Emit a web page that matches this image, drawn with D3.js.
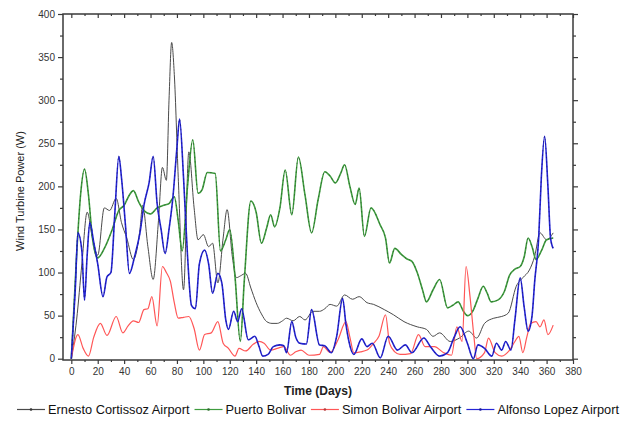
<!DOCTYPE html>
<html>
<head>
<meta charset="utf-8">
<script src="https://cdn.jsdelivr.net/npm/d3@7"></script>
<style>
  html, body { margin: 0; padding: 0; background: #fff; }
  svg { display: block; font-family: "Liberation Sans", Arial, sans-serif; }
</style>
</head>
<body>
<svg id="chart" width="624" height="421"></svg>
<script>
// ---------- data (day, power W) ----------
const seriesNames = ["Ernesto Cortissoz Airport", "Puerto Bolivar", "Simon Bolivar Airport", "Alfonso Lopez Airport"];

const ernestoCortissoz = [[0,0],[4,45],[8,110],[12,170],[16,140],[20,120],[25,175],[29,172],[34,186],[38,158],[42,140],[47,115],[52,150],[54,178],[58,130],[62,92],[66,160],[69,222],[72,207],[74,300],[76,367],[78,330],[81,210],[85,80],[89,240],[93,175],[96,138],[100,144],[104,130],[107,134],[111,88],[115,140],[118,173],[122,118],[125,94],[128,96],[132,99],[136,82],[140,65],[144,52],[148,43],[152,41],[156,41],[160,44],[163,47],[168,44],[173,49],[177,45],[183,55],[188,55],[192,58],[196,63],[201,61],[207,74],[213,69],[218,72],[224,65],[229,63],[237,57],[244,51],[252,43],[262,37],[269,34],[274,26],[279,30],[287,20],[294,24],[301,32],[307,24],[313,41],[320,47],[326,49],[331,53],[337,84],[342,94],[347,103],[351,119],[355,146],[360,138],[365,146]];

const puertoBolivar = [[0,0],[4,120],[7,190],[10,220],[13,190],[16,140],[20,117],[25,128],[31,150],[36,172],[40,178],[44,190],[47,195],[51,182],[55,172],[60,168],[65,175],[70,178],[74,180],[78,188],[81,160],[84,125],[88,200],[92,254],[96,192],[99,196],[103,216],[109,215],[113,125],[117,138],[120,150],[124,95],[128,20],[131,90],[136,183],[140,170],[144,134],[148,152],[151,167],[154,153],[158,175],[162,219],[167,167],[172,234],[177,190],[182,146],[187,185],[192,217],[196,212],[200,204],[204,215],[207,225],[211,200],[215,179],[218,198],[222,142],[227,175],[234,155],[238,140],[241,111],[245,128],[250,121],[254,116],[258,113],[262,100],[266,80],[269,66],[274,80],[279,92],[285,59],[289,62],[293,66],[297,55],[300,50],[304,55],[308,70],[312,84],[315,76],[318,66],[323,68],[328,78],[332,97],[336,104],[340,107],[343,118],[346,140],[349,130],[352,115],[356,125],[360,138],[365,140]];

const simonBolivar = [[0,0],[5,28],[9,12],[13,3],[17,25],[22,41],[27,27],[34,49],[39,30],[43,38],[47,44],[51,42],[55,57],[58,58],[61,72],[65,38],[69,107],[72,100],[75,90],[78,65],[81,47],[85,48],[89,49],[93,35],[97,10],[101,28],[106,30],[111,43],[115,18],[119,12],[124,3],[127,12],[132,9],[138,17],[142,20],[146,18],[151,10],[156,12],[161,14],[166,4],[170,8],[174,10],[180,4],[188,5],[191,14],[196,7],[202,22],[208,43],[211,25],[214,7],[219,8],[224,10],[229,18],[233,26],[238,51],[241,18],[245,8],[249,5],[257,6],[263,28],[268,14],[275,14],[282,7],[288,4],[292,37],[296,20],[299,107],[302,72],[305,25],[307,0],[313,7],[316,24],[321,7],[326,3],[332,10],[336,20],[339,26],[342,7],[345,25],[348,41],[352,43],[355,37],[358,45],[361,28],[365,39]];

const alfonsoLopez = [[0,0],[3,80],[5,146],[8,125],[10,68],[12,120],[14,158],[17,135],[20,110],[24,72],[27,95],[30,100],[33,170],[36,235],[38,210],[41,155],[44,99],[48,119],[52,146],[55,178],[59,205],[62,235],[65,180],[68,150],[71,122],[74,150],[77,188],[80,245],[82,278],[85,210],[88,120],[91,62],[94,58],[97,110],[101,126],[104,110],[107,76],[111,99],[114,88],[117,45],[119,34],[123,55],[126,43],[129,58],[134,22],[139,26],[142,15],[145,3],[149,5],[153,14],[158,16],[161,15],[163,7],[167,43],[170,25],[173,18],[178,17],[182,57],[188,16],[192,15],[197,7],[201,26],[205.5,70],[208,40],[210,22],[214,5],[220,23],[224,14],[228,18],[234,1],[240,26],[247,10],[253,16],[258,7],[267,24],[272,14],[279,3],[285,7],[290,25],[294.5,37],[300,18],[304.5,0],[308,16],[313,12],[318.5,3],[322,18],[326,10],[329,20],[333,10],[336,45],[340,94],[343,60],[346,32],[349,50],[351,90],[354,140],[356,210],[358.5,258],[361,200],[363,140],[365,128]];

const xTickLabels = d3.range(0, 381, 20);
const xMinorTicks = d3.range(10, 381, 20);
const yTickLabels = d3.range(0, 401, 50);
const yMinorTicks = d3.range(25, 400, 50);

const xTitle = "Time (Days)";
const yTitle = "Wind Turbine Power (W)";

// ---------- styles ----------
const styles = [
  { color: "#4a4a4a", width: 1.0, overlay: null },
  { color: "#3f9c3f", width: 1.6, overlay: "#1d4a1d" },
  { color: "#ff5656", width: 1.2, overlay: null },
  { color: "#2424d6", width: 1.6, overlay: "#12125a" }
];
const allSeries = [ernestoCortissoz, puertoBolivar, simonBolivar, alfonsoLopez];

// ---------- layout ----------
const svg = d3.select("#chart");
const L = 63, R = 573, T = 14, B = 360;
const x = d3.scaleLinear().domain([-6.3, 380]).range([L, R]);
const y = d3.scaleLinear().domain([-1.5, 400]).range([B, T]);
const axisColor = "#3a3a3a";
const labelColor = "#333";

svg.append("defs").append("clipPath").attr("id", "clip")
  .append("rect").attr("x", L).attr("y", T).attr("width", R - L).attr("height", B - T);

// lines
const line = d3.line().x(d => x(d[0])).y(d => y(d[1])).curve(d3.curveMonotoneX);
const plot = svg.append("g").attr("clip-path", "url(#clip)");
allSeries.forEach((s, i) => {
  const st = styles[i];
  plot.append("path").datum(s).attr("d", line)
    .attr("fill", "none").attr("stroke", st.color).attr("stroke-width", st.width)
    .attr("stroke-linejoin", "round");
  if (st.overlay) {
    plot.append("path").datum(s).attr("d", line)
      .attr("fill", "none").attr("stroke", st.overlay).attr("stroke-width", 0.8)
      .attr("stroke-dasharray", "1.5,3").attr("opacity", 0.7);
  }
});

// axes
function styleAxis(g, hideLabels) {
  g.select(".domain").remove();
  g.selectAll(".tick line").attr("stroke", axisColor).attr("stroke-width", 1.2);
  g.selectAll(".tick text").attr("fill", labelColor).style("font-size", "10px")
    .style("font-family", "'Liberation Sans', Arial, sans-serif");
  if (hideLabels) g.selectAll(".tick text").remove();
}
svg.append("g").attr("transform", `translate(0,${B})`)
  .call(d3.axisBottom(x).tickValues(xTickLabels).tickSize(4).tickPadding(4).tickFormat(d3.format("d")))
  .call(g => styleAxis(g, false));
svg.append("g").attr("transform", `translate(0,${B})`)
  .call(d3.axisBottom(x).tickValues(xMinorTicks).tickSize(2).tickFormat(""))
  .call(g => styleAxis(g, true));
svg.append("g").attr("transform", `translate(0,${T})`)
  .call(d3.axisTop(x).tickValues(xTickLabels).tickSize(-4).tickFormat(""))
  .call(g => styleAxis(g, true));
svg.append("g").attr("transform", `translate(0,${T})`)
  .call(d3.axisTop(x).tickValues(xMinorTicks).tickSize(-2).tickFormat(""))
  .call(g => styleAxis(g, true));
svg.append("g").attr("transform", `translate(${L},0)`)
  .call(d3.axisLeft(y).tickValues(yTickLabels).tickSize(5).tickPadding(3).tickFormat(d3.format("d")))
  .call(g => styleAxis(g, false));
svg.append("g").attr("transform", `translate(${L},0)`)
  .call(d3.axisLeft(y).tickValues(yMinorTicks).tickSize(3).tickFormat(""))
  .call(g => styleAxis(g, true));
svg.append("g").attr("transform", `translate(${R},0)`)
  .call(d3.axisRight(y).tickValues(yTickLabels).tickSize(5).tickFormat(""))
  .call(g => styleAxis(g, true));
svg.append("g").attr("transform", `translate(${R},0)`)
  .call(d3.axisRight(y).tickValues(yMinorTicks).tickSize(3).tickFormat(""))
  .call(g => styleAxis(g, true));

svg.append("rect").attr("x", L).attr("y", T).attr("width", R - L).attr("height", B - T)
  .attr("fill", "none").attr("stroke", axisColor).attr("stroke-width", 1.5);

// titles
svg.append("text").attr("x", 318).attr("y", 395)
  .attr("text-anchor", "middle").attr("fill", "#222")
  .style("font-size", "12px").style("font-weight", "bold").text(xTitle);
svg.append("text").attr("transform", `translate(24,${(T + B) / 2 + 4}) rotate(-90)`)
  .attr("text-anchor", "middle").attr("fill", "#222")
  .style("font-size", "11px").text(yTitle);

// legend
const legend = svg.append("g");
let lx = 17;
const ly = 414;
seriesNames.forEach((name, i) => {
  const st = styles[i];
  legend.append("line").attr("x1", lx).attr("x2", lx + 28).attr("y1", ly - 4.5).attr("y2", ly - 4.5)
    .attr("stroke", st.color).attr("stroke-width", 1.2);
  legend.append("circle").attr("cx", lx + 14).attr("cy", ly - 4.5).attr("r", 1.3)
    .attr("fill", d3.color(st.color).darker(1));
  const t = legend.append("text").attr("x", lx + 31).attr("y", ly)
    .attr("fill", "#111").style("font-size", "12.8px").text(name);
  lx += 31 + t.node().getComputedTextLength() + 5;
});
</script>
</body>
</html>
